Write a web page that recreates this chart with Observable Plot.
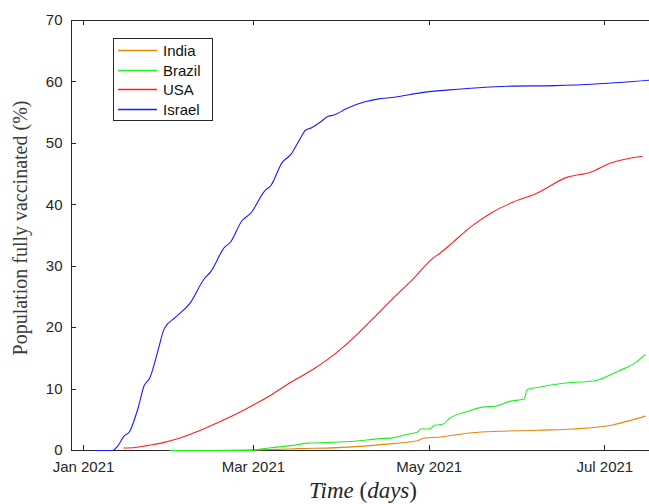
<!DOCTYPE html>
<html>
<head>
<meta charset="utf-8">
<script src="https://cdn.jsdelivr.net/npm/d3@7"></script>
<script src="https://cdn.jsdelivr.net/npm/@observablehq/plot@0.6"></script>
<style>
  html, body { margin: 0; padding: 0; background: #fff; overflow: hidden; }
  #chart { width: 649px; height: 504px; }
</style>
</head>
<body>
<div id="chart"></div>
<script>
// ---- Data ----
const countries = ["India", "Brazil", "USA", "Israel"];
const colors = ["#e8860a", "#22ee22", "#ff1f1f", "#1a1aff"];

const indiaDates = ["2021-02-15","2021-03-02","2021-03-17","2021-04-03","2021-04-15","2021-04-27","2021-04-29","2021-05-05","2021-05-08","2021-05-19","2021-06-08","2021-06-20","2021-07-04","2021-07-10","2021-07-15"];
const indiaValues = [0, 0.1, 0.3, 0.55, 1.0, 1.6, 2.0, 2.2, 2.4, 3.0, 3.3, 3.5, 4.2, 4.9, 5.6];

const brazilDates = ["2021-01-31","2021-02-27","2021-03-07","2021-03-14","2021-03-20","2021-03-29","2021-04-05","2021-04-13","2021-04-19","2021-04-23","2021-04-27","2021-04-28","2021-05-01","2021-05-03","2021-05-06","2021-05-08","2021-05-14","2021-05-20","2021-05-24","2021-05-29","2021-06-03","2021-06-04","2021-06-08","2021-06-16","2021-06-28","2021-06-30","2021-07-06","2021-07-11","2021-07-15"];
const brazilValues = [0, 0, 0.45, 0.8, 1.2, 1.35, 1.5, 1.9, 2.1, 2.6, 3.0, 3.5, 3.5, 4.1, 4.3, 5.2, 6.3, 7.1, 7.2, 8.0, 8.4, 9.9, 10.3, 10.9, 11.4, 11.7, 13.0, 14.1, 15.6];

const usaDates = ["2021-01-15","2021-01-19","2021-01-23","2021-01-28","2021-02-04","2021-02-09","2021-02-15","2021-02-22","2021-03-01","2021-03-07","2021-03-14","2021-03-22","2021-03-29","2021-04-06","2021-04-12","2021-04-19","2021-04-26","2021-05-02","2021-05-05","2021-05-09","2021-05-16","2021-05-23","2021-05-30","2021-06-07","2021-06-18","2021-06-26","2021-07-03","2021-07-14"];
const usaValues = [0.4, 0.5, 0.8, 1.2, 2.1, 3.0, 4.2, 5.7, 7.4, 9.0, 11.1, 13.3, 15.6, 18.9, 21.7, 25.0, 28.2, 31.2, 32.2, 33.8, 36.6, 38.8, 40.4, 41.8, 44.5, 45.3, 46.8, 47.9];

const israelDates = ["2021-01-05","2021-01-11","2021-01-13","2021-01-15","2021-01-17","2021-01-20","2021-01-22","2021-01-24","2021-01-27","2021-01-29","2021-02-02","2021-02-07","2021-02-12","2021-02-14","2021-02-19","2021-02-21","2021-02-25","2021-02-28","2021-03-05","2021-03-07","2021-03-11","2021-03-14","2021-03-17","2021-03-19","2021-03-21","2021-03-24","2021-03-27","2021-03-29","2021-04-02","2021-04-09","2021-04-13","2021-04-19","2021-04-29","2021-05-08","2021-05-28","2021-06-14","2021-06-29","2021-07-17"];
const israelValues = [0, 0, 0.8, 2.3, 3.1, 7.0, 10.5, 11.8, 16.5, 19.8, 21.7, 24.0, 28.0, 29.0, 33.1, 33.9, 37.4, 38.6, 42.3, 43.1, 46.9, 48.2, 50.6, 52.1, 52.5, 53.4, 54.4, 54.6, 55.6, 56.8, 57.2, 57.5, 58.3, 58.7, 59.3, 59.4, 59.7, 60.3];

const xTickDates = ["2021-01-01", "2021-03-01", "2021-05-01", "2021-07-01"];
const yTicks = [0, 10, 20, 30, 40, 50, 60, 70];

// ---- Build table ----
const series = {
  India: [indiaDates, indiaValues],
  Brazil: [brazilDates, brazilValues],
  USA: [usaDates, usaValues],
  Israel: [israelDates, israelValues]
};
const rows = [];
for (const c of countries) {
  const [ds, vs] = series[c];
  ds.forEach((d, i) => rows.push({country: c, date: new Date(d + "T00:00:00Z"), value: vs[i]}));
}
const xTicks = xTickDates.map(d => new Date(d + "T00:00:00Z"));
const xMin = new Date(Date.UTC(2020, 11, 27, 20));
const xMax = new Date(Date.UTC(2021, 6, 16, 12));
const axisColor = "#262626";

const plot = Plot.plot({
  width: 649,
  height: 504,
  marginLeft: 71,
  marginRight: 0,
  marginTop: 20,
  marginBottom: 54,
  style: {fontFamily: "'Liberation Sans', Arial, sans-serif", fontSize: "15px", color: axisColor, background: "#fff", overflow: "visible"},
  x: {type: "utc", domain: [xMin, xMax]},
  y: {domain: [0, 70]},
  color: {domain: countries, range: colors},
  marks: [
    Plot.axisX({ticks: xTicks, tickFormat: d3.utcFormat("%b %Y"), tickSize: 0, tickPadding: 11, label: null, fontSize: 15}),
    Plot.axisY({ticks: yTicks, tickSize: 0, tickPadding: 9, label: null, fontSize: 15}),
    Plot.ruleY([0], {stroke: axisColor, strokeWidth: 1}),
    Plot.ruleY([70], {stroke: axisColor, strokeWidth: 1}),
    Plot.ruleX([xMin], {stroke: axisColor, strokeWidth: 1}),
    Plot.line(rows, {x: "date", y: "value", z: "country", stroke: "country", strokeWidth: 1.1, curve: "monotone-x"})
  ]
});

document.getElementById("chart").appendChild(plot);

// ---- Inward tick marks, labels, legend ----
const svg = d3.select(plot);
const sx = plot.scale("x"), sy = plot.scale("y");
const xL = sx.apply(xMin), yB = sy.apply(0), yT = sy.apply(70);
const g = svg.append("g").attr("stroke", axisColor).attr("stroke-width", 1);
for (const t of xTicks) {
  const px = Math.round(sx.apply(t)) + 0.5;
  g.append("line").attr("x1", px).attr("x2", px).attr("y1", yB).attr("y2", yB - 5);
  g.append("line").attr("x1", px).attr("x2", px).attr("y1", yT).attr("y2", yT + 5);
}
for (const v of yTicks) {
  const py = Math.round(sy.apply(v)) + 0.5;
  g.append("line").attr("x1", xL).attr("x2", xL + 5).attr("y1", py).attr("y2", py);
}

// Axis labels
svg.append("text")
  .attr("x", 363).attr("y", 498)
  .attr("text-anchor", "middle")
  .attr("font-family", "'Liberation Serif', 'DejaVu Serif', serif")
  .attr("font-size", 23)
  .attr("fill", axisColor)
  .html('<tspan font-style="italic">Time</tspan> (<tspan font-style="italic">days</tspan>)');

svg.append("text")
  .attr("transform", "translate(27,228) rotate(-90)")
  .attr("text-anchor", "middle")
  .attr("font-family", "'Liberation Serif', 'DejaVu Serif', serif")
  .attr("font-size", 20)
  .attr("fill", "#3a3a3a")
  .text("Population fully vaccinated (%)");

// Legend
const lg = svg.append("g");
lg.append("rect").attr("x", 113.5).attr("y", 38.5).attr("width", 99).attr("height", 82)
  .attr("fill", "#fff").attr("stroke", axisColor).attr("stroke-width", 1);
countries.forEach((c, i) => {
  const yy = Math.round(50 + i * 19.5) + 0.5;
  lg.append("line").attr("x1", 118).attr("x2", 157).attr("y1", yy).attr("y2", yy)
    .attr("stroke", colors[i]).attr("stroke-width", 1.5);
  lg.append("text").attr("x", 163).attr("y", yy + 5.5)
    .attr("text-anchor", "start")
    .attr("font-family", "'Liberation Sans', Arial, sans-serif").attr("font-size", 15)
    .attr("fill", "#111").text(c);
});
</script>
</body>
</html>
